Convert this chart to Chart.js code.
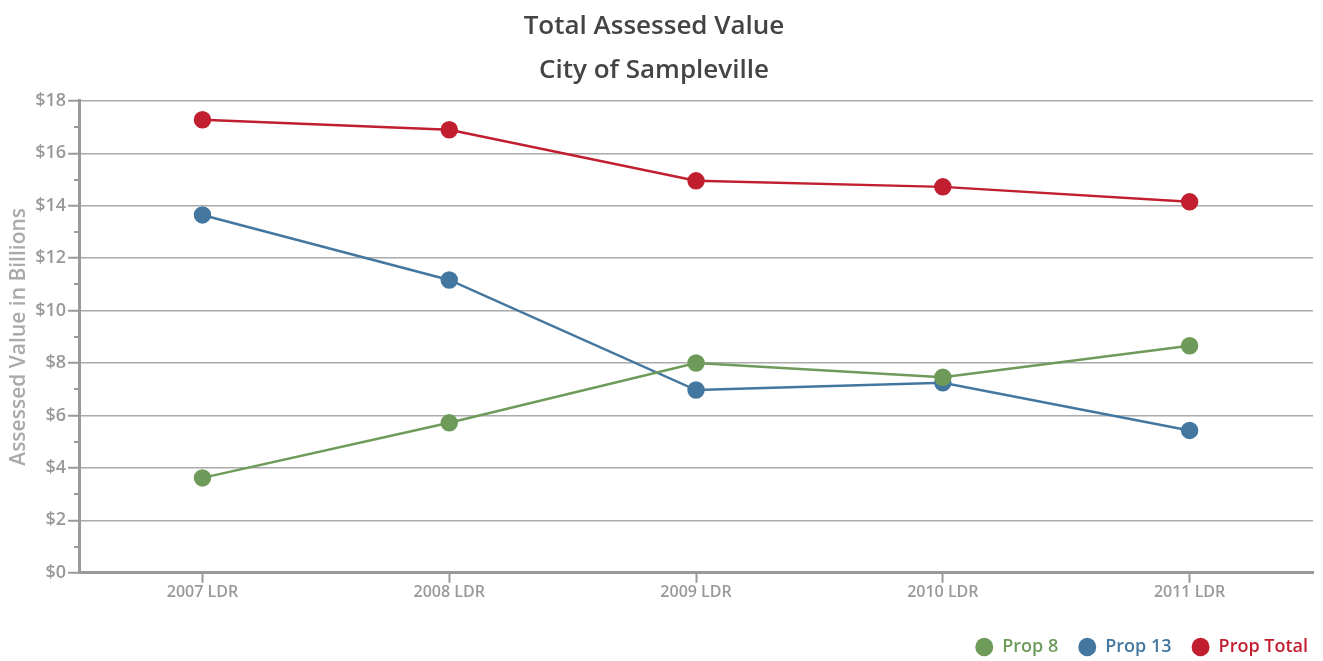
<!DOCTYPE html>
<html>
<head>
<meta charset="utf-8">
<script src="https://cdn.jsdelivr.net/npm/chart.js@4/dist/chart.umd.min.js"></script>
<style>
html,body{margin:0;padding:0;background:#fff;}
#wrap{width:1323px;height:661px;position:relative;}
</style>
</head>
<body>
<div id="wrap"><canvas id="c"></canvas></div>
<script>
const categories = ["2007 LDR", "2008 LDR", "2009 LDR", "2010 LDR", "2011 LDR"];
const prop8 = [3.62, 5.72, 8.0, 7.46, 8.66];
const prop13 = [13.65, 11.17, 6.97, 7.25, 5.43];
const propTotal = [17.28, 16.9, 14.95, 14.72, 14.15];
const seriesNames = ["Prop 8", "Prop 13", "Prop Total"];
const titleLines = ["Total Assessed Value", "City of Sampleville"];
const yAxisTitle = "Assessed Value in Billions";

const GREEN = "#6E9A5A", BLUE = "#44779F", RED = "#C11F2F";
const FONT = "'Open Sans', Lato, sans-serif";

const minorTicks = {
  id: "minorTicks",
  afterDraw(chart) {
    const y = chart.scales.y, ctx = chart.ctx;
    ctx.save();
    ctx.strokeStyle = "#9a9a9a";
    ctx.lineWidth = 2;
    for (let v = y.min; v <= y.max; v += 1) {
      if (v % 2 === 1) {
        const py = Math.round(y.getPixelForValue(v));
        ctx.beginPath();
        ctx.moveTo(y.right - 5, py);
        ctx.lineTo(y.right, py);
        ctx.stroke();
      }
    }
    ctx.restore();
  }
};

function ds(label, data, color) {
  return {
    label, data,
    borderColor: color, backgroundColor: color,
    pointBackgroundColor: color, pointBorderColor: color,
    borderWidth: 2.5, pointRadius: 7.5, pointHoverRadius: 7.5,
    tension: 0
  };
}

new Chart(document.getElementById("c"), {
  type: "line",
  data: {
    labels: categories,
    datasets: [
      ds(seriesNames[0], prop8, GREEN),
      ds(seriesNames[1], prop13, BLUE),
      ds(seriesNames[2], propTotal, RED)
    ]
  },
  plugins: [minorTicks],
  options: {
    responsive: true,
    maintainAspectRatio: false,
    animation: false,
    layout: { padding: { left: -20, right: -5, top: 5, bottom: -5 } },
    plugins: {
      title: {
        display: true,
        text: titleLines,
        color: "#444",
        font: { family: FONT, size: 26, weight: "600", lineHeight: 1.69 },
        padding: { top: 0, bottom: 8 }
      },
      legend: {
        position: "bottom",
        align: "end",
        labels: {
          usePointStyle: true,
          pointStyle: "circle",
          pointStyleWidth: 18,
          boxWidth: 13, boxHeight: 13,
          padding: 20,
          font: { family: FONT, size: 18, weight: "600" },
          generateLabels(chart) {
            return chart.data.datasets.map((d, i) => ({
              text: d.label,
              fillStyle: d.backgroundColor,
              strokeStyle: d.backgroundColor,
              fontColor: d.borderColor,
              lineWidth: 0,
              pointStyle: "circle",
              datasetIndex: i,
              hidden: false
            }));
          }
        }
      },
      tooltip: { enabled: false }
    },
    scales: {
      x: {
        offset: true,
        afterFit: (s) => { s.height += 16; },
        grid: {
          offset: false,
          drawOnChartArea: false,
          tickLength: 10,
          tickColor: "#9a9a9a",
          tickWidth: 2
        },
        border: { color: "#9a9a9a", width: 3 },
        ticks: {
          color: "#999",
          padding: 0,
          font: { family: FONT, size: 16, weight: "600" }
        }
      },
      y: {
        min: 0, max: 18,
        ticks: {
          stepSize: 1,
          autoSkip: false,
          color: "#999",
          padding: 2,
          font: { family: FONT, size: 18, weight: "600" },
          callback: (v) => (v % 2 === 0 ? "$" + v : "")
        },
        grid: {
          color: (c) => (c.tick && c.tick.value % 2 === 0 ? "#aaa" : "rgba(0,0,0,0)"),
          lineWidth: 1.5,
          tickLength: 11,
          tickColor: (c) => (c.tick && c.tick.value % 2 === 0 ? "#9a9a9a" : "rgba(0,0,0,0)"),
          tickWidth: 2
        },
        border: { color: "#9a9a9a", width: 3 },
        title: {
          display: true,
          text: yAxisTitle,
          color: "#aaa",
          padding: { top: 26, bottom: 2 },
          font: { family: FONT, size: 21, weight: "600" }
        }
      },
      yRightGap: {
        position: "right",
        display: true,
        min: 0, max: 18,
        afterFit: (s) => { s.width = 11; },
        grid: { display: false, drawOnChartArea: false },
        border: { display: false },
        ticks: { display: false }
      }
    }
  }
});
</script>
</body>
</html>
